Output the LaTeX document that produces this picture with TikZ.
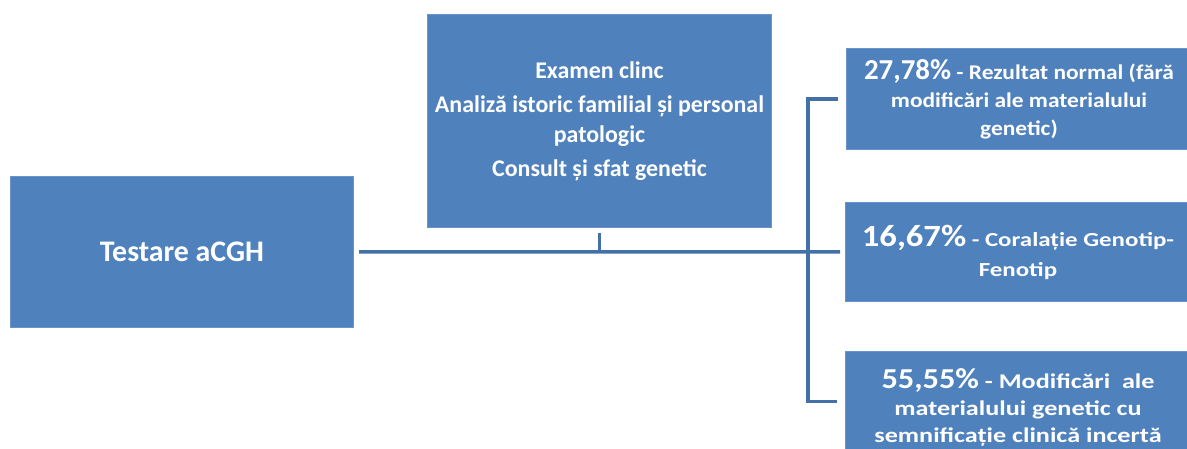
\documentclass[tikz,border=0pt]{standalone}
\usepackage{fontspec}
\setmainfont{Carlito}
\newfontfamily\wideA{Carlito}[FakeStretch=1.25]
\newfontfamily\wideB{Carlito}[FakeStretch=1.12]
\newfontfamily\wideR{Carlito}[FakeStretch=1.12]
\definecolor{boxblue}{HTML}{4F81BD}
\definecolor{boxedge}{HTML}{6A93C9}
\definecolor{linkblue}{HTML}{4470A8}
\begin{document}
\begin{tikzpicture}[x=1bp,y=-1bp,
  box/.style={fill=boxblue, draw=boxedge, line width=1bp, text=white,
    font=\wideA\bfseries\fontsize{21}{27}\selectfont, align=center, inner sep=0pt, anchor=north west},
  conn/.style={draw=linkblue, line width=3.5bp}]
\useasboundingbox (0,0) rectangle (1187,449);
\clip (0,0) rectangle (1187,449);
\node[box, minimum width=343bp, minimum height=151bp,
  font=\bfseries\fontsize{30}{32}\selectfont] (L) at (10,176) {Testare aCGH};
\node[box, minimum width=344bp, minimum height=213bp,
  font=\bfseries\fontsize{24}{30}\selectfont] (T) at (427,14)
  {Examen clinc\\[4bp] Analiză istoric familial și personal\\ patologic\\[4bp] Consult și sfat genetic};
\node[box, minimum width=345bp, minimum height=101bp,
  font=\wideR\bfseries\fontsize{21}{28}\selectfont] (R1) at (846,48)
  {{\normalfont\bfseries\fontsize{29}{29}\selectfont 27,78\%} - Rezultat normal (fără\\ modificări ale materialului\\ genetic)};
\node[box, minimum width=345bp, minimum height=99bp,
  font=\wideA\bfseries\fontsize{20}{30}\selectfont] (R2) at (845,202)
  {{\wideB\fontsize{31}{31}\selectfont 16,67\%} - Coralație Genotip-\\ Fenotip};
\node[box, minimum width=345bp, minimum height=112bp] (R3) at (845,351)
  {{\wideB\fontsize{29}{29}\selectfont 55,55\%} - Modificări\ \ ale\\ materialului genetic cu\\ semnificație clinică incertă};
\coordinate (bus) at (808,251.5);
\draw[conn, shorten <=5bp, shorten >=5bp] (L.east) -- (R2.west);
\draw[conn, shorten <=5bp] (T.south) -- (T.south |- L.east);
\draw[conn, shorten <=8bp, shorten >=8bp] (R1.west) -| (bus) |- ([yshift=6bp]R3.west);
\end{tikzpicture}
\end{document}
